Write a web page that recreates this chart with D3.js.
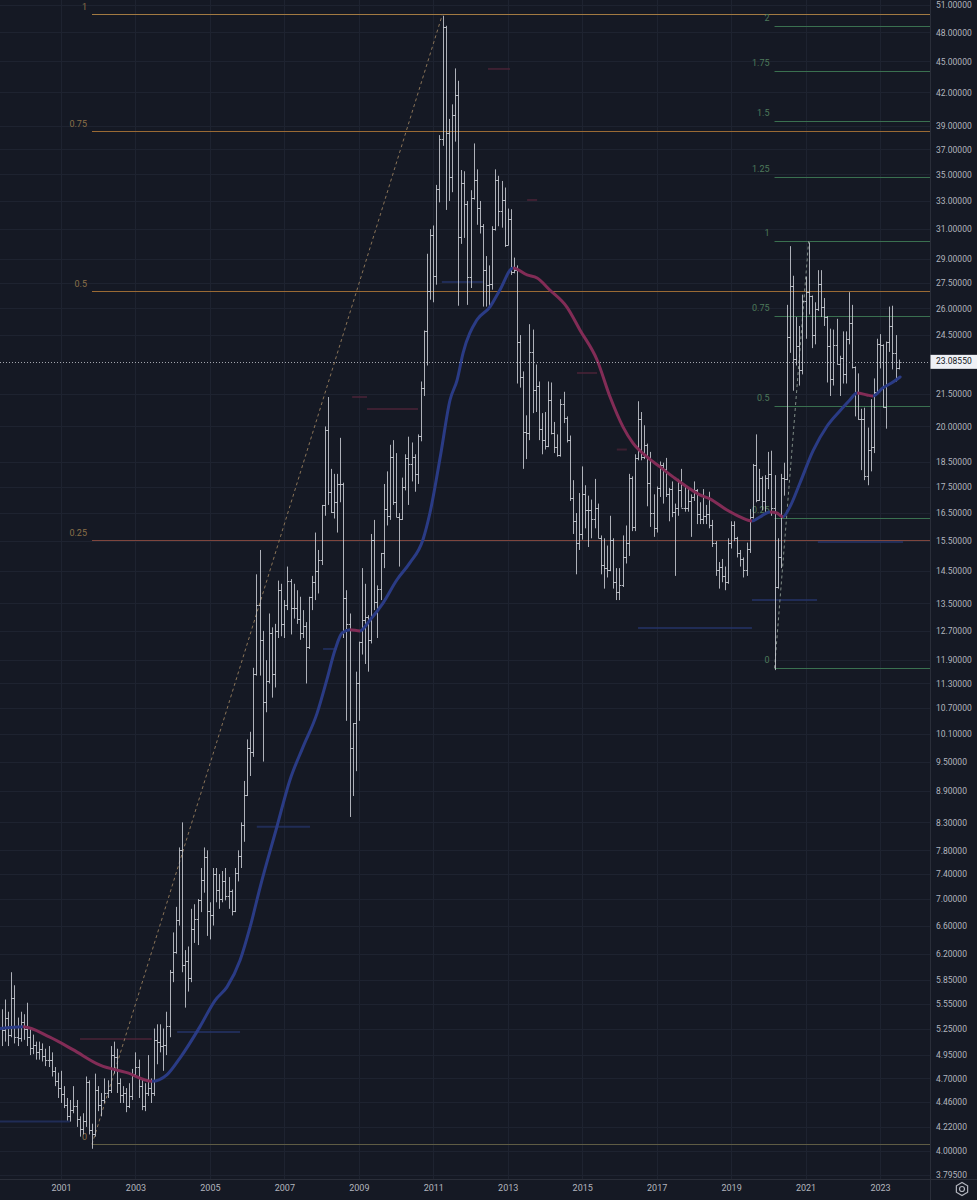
<!DOCTYPE html>
<html><head><meta charset="utf-8">
<script src="https://cdn.jsdelivr.net/npm/d3@7"></script>
<style>
html,body{margin:0;padding:0;background:#151924;}
svg{display:block;}
</style></head><body>
<svg id="chart" width="977" height="1200"></svg>
<script>
// ---------- DATA (monthly OHLC, [open, high, low, close]) ----------
const bars1999 = [null,null,null,null,
 [5.36,5.48,5.15,5.26],[5.26,5.48,5.05,5.23],[5.23,5.60,5.10,5.38],[5.38,5.45,5.05,5.18],
 [5.18,5.95,5.15,5.62],[5.62,5.78,5.08,5.15],[5.15,5.38,5.05,5.14],[5.14,5.45,5.10,5.33]];
const bars2000 = [[5.33,5.42,5.12,5.24],[5.24,5.56,5.05,5.15],[5.15,5.25,4.95,5.03],[5.03,5.18,4.96,5.06],
 [5.06,5.10,4.90,4.98],[4.98,5.10,4.90,5.02],[5.02,5.08,4.88,4.94],[4.94,5.02,4.83,4.90],
 [4.90,5.05,4.82,4.90],[4.90,4.98,4.72,4.78],[4.78,4.82,4.62,4.67],[4.67,4.76,4.50,4.60]];
const bars2001 = [[4.60,4.78,4.45,4.54],[4.54,4.62,4.40,4.43],[4.43,4.50,4.28,4.32],[4.32,4.48,4.27,4.38],
 [4.38,4.62,4.35,4.42],[4.42,4.48,4.22,4.29],[4.29,4.32,4.13,4.20],[4.20,4.35,4.15,4.28],
 [4.28,4.72,4.22,4.66],[4.66,4.68,4.15,4.19],[4.19,4.25,4.02,4.15],[4.15,4.75,4.13,4.58]];
const bars2002 = [[4.58,4.62,4.37,4.43],[4.43,4.55,4.32,4.48],[4.48,4.70,4.45,4.55],[4.55,4.68,4.50,4.58],
 [4.58,5.05,4.55,4.95],[4.95,5.10,4.75,4.93],[4.93,5.02,4.55,4.65],[4.65,4.70,4.45,4.53],
 [4.53,4.62,4.45,4.55],[4.55,4.60,4.36,4.42],[4.42,4.65,4.40,4.52],[4.52,4.80,4.48,4.75]];
const bars2003 = [[4.75,4.98,4.73,4.82],[4.82,4.90,4.50,4.62],[4.62,4.70,4.38,4.42],[4.42,4.65,4.37,4.55],
 [4.55,4.95,4.52,4.60],[4.60,4.70,4.45,4.55],[4.55,5.25,4.52,5.12],[5.12,5.30,4.85,5.10],
 [5.10,5.30,4.98,5.05],[5.05,5.25,4.78,5.06],[5.06,5.45,4.95,5.28],[5.28,5.98,5.15,5.95]];
const bars2004 = [[5.95,6.50,5.82,6.22],[6.22,6.88,6.20,6.68],[6.68,7.85,6.60,7.80],[7.80,8.30,5.95,6.05],
 [6.05,6.25,5.50,6.10],[6.10,6.30,5.70,5.88],[5.88,6.85,5.82,6.55],[6.55,6.92,6.35,6.70],
 [6.70,7.00,6.32,6.98],[6.98,7.50,6.80,7.30],[7.30,7.85,7.10,7.68],[7.68,7.80,6.45,6.82]];
const bars2005 = [[6.82,6.95,6.40,6.75],[6.75,7.50,6.60,7.40],[7.40,7.50,6.95,7.15],[7.15,7.40,6.85,7.00],
 [7.00,7.45,6.95,7.28],[7.28,7.50,6.98,7.05],[7.05,7.35,6.85,7.12],[7.12,7.15,6.75,6.82],
 [6.82,7.50,6.80,7.42],[7.42,7.80,7.28,7.70],[7.70,8.30,7.50,8.25],[8.25,9.10,7.95,8.83]];
const bars2006 = [[8.83,9.98,8.80,9.80],[9.80,10.15,9.20,9.70],[9.70,11.70,9.60,11.55],[11.55,14.40,11.50,13.45],
 [13.45,15.20,11.50,12.45],[12.45,12.70,9.50,10.85],[10.85,11.90,10.60,11.35],[11.35,13.20,11.30,12.65],
 [12.65,12.80,10.95,11.55],[11.55,12.90,11.20,12.70],[12.70,14.20,12.50,13.90],[13.90,14.10,12.55,12.90]];
const bars2007 = [[12.90,13.60,12.50,13.45],[13.45,14.65,13.30,14.20],[14.20,14.25,12.60,13.35],[13.35,14.10,13.05,13.35],
 [13.35,13.90,12.90,13.05],[13.05,13.70,12.45,12.65],[12.65,13.30,12.50,12.85],[12.85,12.95,11.30,12.25],
 [12.25,13.70,12.20,13.70],[13.70,14.35,13.30,14.15],[14.15,15.80,13.60,14.50],[14.50,15.20,13.80,14.85]];
const bars2008 = [[14.85,16.80,14.70,16.80],[16.80,20.00,16.40,19.85],[19.85,21.35,16.80,17.30],[17.30,18.20,16.50,16.55],
 [16.55,18.00,16.30,16.90],[16.90,18.00,15.80,17.60],[17.60,19.50,16.90,17.60],[17.60,17.65,12.50,13.65],
 [13.65,13.90,10.40,12.90],[12.90,13.20,8.40,9.80],[9.80,10.35,8.80,10.35],[10.35,11.60,9.30,11.30]];
const bars2009 = [[11.30,12.40,10.40,12.40],[12.40,14.60,12.05,13.00],[13.00,14.10,11.80,13.10],[13.10,13.15,11.60,12.45],
 [12.45,15.75,12.35,15.55],[15.55,16.25,13.30,13.55],[13.55,14.05,12.50,13.95],[13.95,15.10,13.60,15.10],
 [15.10,17.60,14.60,16.65],[16.65,18.10,16.05,16.40],[16.40,19.20,16.25,18.70],[18.70,19.40,16.80,16.90]];
const bars2010 = [[16.90,18.85,16.35,16.35],[16.35,16.50,14.65,16.30],[16.30,17.85,16.25,17.50],[17.50,18.80,17.35,18.65],
 [18.65,19.55,16.80,18.40],[18.40,19.30,17.70,18.70],[18.70,18.80,17.30,18.00],[18.00,19.65,17.60,19.60],
 [19.60,22.10,19.35,21.80],[21.80,24.75,21.40,24.70],[24.70,29.35,22.90,27.00],[27.00,31.00,26.50,30.60]];
const bars2011 = [[30.60,31.25,26.35,27.95],[27.95,34.20,27.40,33.90],[33.90,38.20,32.90,37.85],[37.85,49.80,37.30,48.60],
 [48.60,48.70,32.35,38.40],[38.40,39.60,33.00,34.80],[34.80,40.90,33.65,39.95],[39.95,44.30,37.65,41.75],
 [41.75,43.10,26.15,30.45],[30.45,35.35,30.00,34.35],[34.35,35.25,30.40,32.80],[32.80,33.00,26.20,27.90]];
const bars2012 = [[27.90,33.80,27.20,33.20],[33.20,37.50,33.10,34.55],[34.55,35.40,31.30,32.50],[32.50,33.00,30.70,31.25],
 [31.25,31.35,26.10,28.30],[28.30,29.20,26.10,27.40],[27.40,28.60,26.10,27.45],[27.45,31.20,27.10,31.00],
 [31.00,35.40,30.90,34.55],[34.55,34.90,31.20,32.30],[32.30,34.50,31.10,33.10],[33.10,34.00,29.80,29.95]];
const bars2013 = [[29.95,32.45,29.90,31.70],[31.70,32.40,28.00,28.20],[28.20,29.10,28.10,28.30],[28.30,28.60,22.00,24.10],
 [24.10,24.50,21.80,22.30],[22.30,22.60,18.20,19.75],[19.75,20.50,18.60,19.70],[19.70,25.10,19.40,23.60],
 [23.60,24.80,20.60,21.70],[21.70,22.95,20.65,21.90],[21.90,22.10,19.40,19.90],[19.90,20.60,18.80,19.40]];
const bars2014 = [[19.40,20.65,19.00,19.15],[19.15,22.10,19.10,21.20],[21.20,22.05,19.65,19.70],[19.70,20.20,18.85,19.10],
 [19.10,19.65,18.70,18.75],[18.75,21.25,18.70,21.00],[21.00,21.60,20.15,20.40],[20.40,20.45,19.30,19.40],
 [19.40,19.60,16.95,17.05],[17.05,17.75,15.75,16.20],[16.20,16.50,14.40,15.45],[15.45,17.25,15.20,15.75]];
const bars2015 = [[15.75,18.30,15.55,17.20],[17.20,17.55,15.95,16.60],[16.60,17.15,15.30,16.60],[16.60,17.00,15.60,16.30],
 [16.30,17.80,15.95,16.70],[16.70,16.85,15.60,15.60],[15.60,15.70,14.40,14.70],[14.70,15.60,13.95,14.60],
 [14.60,15.35,14.30,14.55],[14.55,16.40,14.50,15.55],[15.55,15.60,13.95,14.15],[14.15,14.60,13.60,13.85]];
const bars2016 = [[13.85,14.60,13.60,14.05],[14.05,15.70,14.00,14.95],[14.95,16.05,14.75,15.45],[15.45,18.00,15.00,17.85],
 [17.85,17.90,15.85,16.00],[16.00,18.80,15.85,18.65],[18.65,21.15,18.55,20.35],[20.35,20.65,18.55,18.70],
 [18.70,20.05,18.60,19.20],[19.20,19.25,16.75,17.65],[17.65,18.90,16.00,16.50],[16.50,17.20,15.65,15.95]];
const bars2017 = [[15.95,17.50,15.80,17.45],[17.45,18.50,17.10,18.35],[18.35,18.45,16.85,18.20],[18.20,18.65,17.10,17.20],
 [17.20,17.45,16.20,17.40],[17.40,17.70,16.35,16.55],[16.55,16.85,14.35,16.70],[16.70,17.80,16.40,17.35],
 [17.35,18.20,16.70,16.70],[16.70,17.50,16.55,16.70],[16.70,17.40,16.55,16.95],[16.95,17.20,15.65,17.10]];
const bars2018 = [[17.10,17.70,16.95,17.35],[17.35,17.40,16.10,16.45],[16.45,16.90,16.10,16.30],[16.30,17.40,16.10,16.40],
 [16.40,16.80,16.10,16.45],[16.45,17.30,15.95,16.05],[16.05,16.25,15.30,15.45],[15.45,15.50,14.35,14.55],
 [14.55,14.80,13.95,14.65],[14.65,14.90,14.15,14.35],[14.35,14.65,13.90,14.15],[14.15,15.60,14.10,15.45]];
const bars2019 = [[15.45,16.20,15.25,16.05],[16.05,16.20,15.50,15.60],[15.60,15.65,14.95,15.10],[15.10,15.20,14.65,14.90],
 [14.90,14.95,14.30,14.55],[14.55,15.45,14.35,15.25],[15.25,16.65,15.10,16.35],[16.35,18.40,16.30,18.35],
 [18.35,19.65,16.90,17.00],[17.00,18.20,16.95,17.85],[17.85,17.90,16.60,16.95],[16.95,17.95,16.55,17.85]];
const bars2020 = [[17.85,18.90,17.40,18.00],[18.00,18.95,16.40,16.70],[16.70,17.95,11.64,14.00],[14.00,15.60,13.95,14.95],
 [14.95,18.00,14.60,17.85],[17.85,18.45,17.15,17.80],[17.80,26.20,17.75,24.40],[24.40,29.85,23.55,27.35],
 [27.35,27.95,21.65,23.25],[23.25,25.50,22.90,23.90],[23.90,25.00,21.90,22.65],[22.65,26.80,22.45,26.40]];
const bars2021 = [[26.40,27.90,24.30,26.95],[26.95,30.10,25.65,26.70],[26.70,26.75,23.80,24.50],[24.50,26.35,24.00,25.95],
 [25.95,28.30,25.85,27.45],[27.45,28.30,25.50,26.10],[26.10,26.60,25.00,25.50],[25.50,25.55,22.05,23.90],
 [23.90,24.85,21.40,22.20],[22.20,24.80,21.90,23.95],[23.95,25.40,22.95,23.00],[23.00,23.40,21.40,23.30]];
const bars2022 = [[23.30,24.70,22.00,22.45],[22.45,24.70,22.00,24.30],[24.30,26.95,24.00,25.15],[25.15,26.20,22.75,22.80],
 [22.80,22.85,20.45,21.60],[21.60,22.50,20.30,20.35],[20.35,20.80,18.15,20.35],[20.35,20.85,17.75,17.90],
 [17.90,19.95,17.55,19.00],[19.00,21.25,18.10,19.10],[19.10,22.25,18.85,21.60],[21.60,24.30,21.55,24.00]];
const bars2023 = [[24.00,24.55,22.75,23.95],[23.95,24.00,20.85,20.90],[20.90,24.15,19.90,24.10],[24.10,26.10,23.60,25.00],
 [25.00,26.15,22.70,23.55],[23.55,24.50,22.10,22.75],[22.75,23.20,22.70,23.0855]];

// Moving average, decimal years / prices
const maTimes = [1999.36,1999.98,2000.70,2001.32,2002.05,2002.77,2003.44,2003.85,2004.20,2004.73,2005.14,2005.46,2005.81,
 2006.08,2006.35,2006.80,2007.15,2007.50,2007.88,2008.14,2008.36,2008.55,2008.76,2009.03,2009.30,2009.65,2010.02,2010.37,
 2010.72,2010.91,2011.20,2011.45,2011.64,2011.80,2012.17,2012.52,2012.79,2013.14,2013.52,2013.79,2014.13,2014.59,2014.94,
 2015.40,2015.75,2016.10,2016.36,2016.74,2017.09,2017.44,2017.81,2018.16,2018.43,2018.89,2019.24,2019.56,2019.78,2020.04,
 2020.23,2020.39,2020.58,2020.85,2021.20,2021.58,2021.92,2022.19,2022.38,2022.65,2022.81,2023.08,2023.35,2023.54];
const maValues = [5.25,5.27,5.15,5.01,4.84,4.76,4.67,4.74,4.92,5.27,5.59,5.76,6.11,
 6.58,7.19,8.22,9.12,9.81,10.58,11.39,12.17,12.64,12.73,12.70,13.01,13.51,14.22,14.77,
 15.54,16.50,18.80,21.21,22.17,23.54,25.33,26.07,27.08,28.43,28.00,27.81,27.08,26.07,24.78,
 23.18,21.35,19.97,19.28,18.69,18.28,17.88,17.49,17.18,17.03,16.61,16.36,16.21,16.36,16.54,
 16.50,16.36,16.73,17.64,18.94,20.02,20.70,21.21,21.54,21.45,21.40,21.79,22.07,22.32];

// Small horizontal markers: [fromYear, toYear, price]
const blueMarks = [[1999.36,2001.24,4.27],[2004.12,2005.81,5.21],[2006.26,2007.69,8.22],[2008.04,2008.41,12.2],
 [2011.23,2012.33,27.56],[2016.50,2019.56,12.78],[2019.56,2021.31,13.60],[2021.33,2023.62,15.47]];
const redMarks = [[2001.51,2003.44,5.13],[2009.22,2010.59,20.79],[2008.82,2009.22,21.35],[2012.47,2013.06,44.25],
 [2014.86,2015.40,22.52],[2013.52,2013.79,33.07],[2015.93,2016.20,19.0]];

// Fibonacci retracement (2001 low -> 2011 high) and extension (2020 low -> 2021 high)
const fibLevels = [0, 0.25, 0.5, 0.75, 1];
const fibColors = ["#5f5c44", "#7e463e", "#9a6a34", "#9a6a34", "#a27a42"];
const fibAnchor = {t0: 2001.833, p0: 4.06, t1: 2011.25, p1: 50.0};
const extLevels = [0, 0.25, 0.5, 0.75, 1, 1.25, 1.5, 1.75, 2];
const extAnchor = {t0: 2020.167, p0: 11.69, t1: 2021.083, p1: 30.19};

const lastPrice = 23.0855;
const priceTicks = [51,48,45,42,39,37,35,33,31,29,27.5,26,24.5,21.5,20,18.5,17.5,16.5,15.5,14.5,13.5,12.7,11.9,11.3,
 10.7,10.1,9.5,8.9,8.3,7.8,7.4,7.0,6.6,6.2,5.85,5.55,5.25,4.95,4.7,4.46,4.22,4.0,3.795];
const yearTicks = [2001,2003,2005,2007,2009,2011,2013,2015,2017,2019,2021,2023];

// ---------- LAYOUT ----------
const W = 977, H = 1200, plotR = 930, plotB = 1179;
const FONT = "Roboto, 'Liberation Sans', sans-serif";
const svg = d3.select("#chart");
svg.append("rect").attr("width", W).attr("height", H).attr("fill", "#151924");

const x = d3.scaleLinear().domain([2001, 2023]).range([61, 880]);
const y = d3.scaleLog().domain([4.0, 51]).range([1151, 5]);

const defs = svg.append("defs");
defs.append("clipPath").attr("id", "plotClip").append("rect")
  .attr("x", 0).attr("y", 0).attr("width", plotR).attr("height", plotB);

// grid
const grid = svg.append("g").attr("clip-path", "url(#plotClip)");
grid.selectAll("line.h").data(priceTicks).join("line")
  .attr("x1", 0).attr("x2", plotR).attr("y1", d => Math.round(y(d)) + 0.5).attr("y2", d => Math.round(y(d)) + 0.5)
  .attr("stroke", "#1e2330").attr("stroke-width", 1);
grid.selectAll("line.v").data(yearTicks).join("line")
  .attr("y1", 0).attr("y2", plotB).attr("x1", d => Math.round(x(d)) + 0.5).attr("x2", d => Math.round(x(d)) + 0.5)
  .attr("stroke", "#1e2330").attr("stroke-width", 1);

const plot = svg.append("g").attr("clip-path", "url(#plotClip)");

// markers
plot.selectAll("line.bm").data(blueMarks).join("line")
  .attr("x1", d => x(d[0])).attr("x2", d => x(d[1])).attr("y1", d => y(d[2])).attr("y2", d => y(d[2]))
  .attr("stroke", "#25356c").attr("stroke-width", 2).attr("opacity", 0.7);
plot.selectAll("line.rm").data(redMarks).join("line")
  .attr("x1", d => x(d[0])).attr("x2", d => x(d[1])).attr("y1", d => y(d[2])).attr("y2", d => y(d[2]))
  .attr("stroke", "#4f2438").attr("stroke-width", 2).attr("opacity", 0.7);

// fib retracement
const fibRange = fibAnchor.p1 - fibAnchor.p0;
const fibG = plot.append("g");
fibLevels.forEach((lv, i) => {
  const p = fibAnchor.p0 + lv * fibRange;
  const yy = Math.round(y(p)) + 0.5;
  fibG.append("line").attr("x1", x(fibAnchor.t0)).attr("x2", plotR).attr("y1", yy).attr("y2", yy)
    .attr("stroke", fibColors[i]).attr("stroke-width", 1);
  fibG.append("text").attr("x", x(fibAnchor.t0) - 5).attr("y", yy - 7)
    .attr("text-anchor", "end").attr("dominant-baseline", "middle")
    .attr("font-family", FONT).attr("font-size", 9).attr("fill", "#8a7048").text(lv);
});
fibG.append("line").attr("x1", x(fibAnchor.t0)).attr("y1", y(fibAnchor.p0))
  .attr("x2", x(fibAnchor.t1)).attr("y2", y(fibAnchor.p1))
  .attr("stroke", "#8a7458").attr("stroke-width", 1).attr("stroke-dasharray", "3,3");

// fib extension
const extRange = extAnchor.p1 - extAnchor.p0;
const extG = plot.append("g");
extLevels.forEach(lv => {
  const p = extAnchor.p0 + lv * extRange;
  const yy = Math.round(y(p)) + 0.5;
  extG.append("line").attr("x1", x(extAnchor.t0)).attr("x2", plotR).attr("y1", yy).attr("y2", yy)
    .attr("stroke", "#3a7050").attr("stroke-width", 1);
  extG.append("text").attr("x", x(extAnchor.t0) - 5).attr("y", yy - 8)
    .attr("text-anchor", "end").attr("dominant-baseline", "middle")
    .attr("font-family", FONT).attr("font-size", 9).attr("fill", "#4d7a5b").text(lv);
});
extG.append("line").attr("x1", x(extAnchor.t0)).attr("y1", y(extAnchor.p0))
  .attr("x2", x(extAnchor.t1)).attr("y2", y(extAnchor.p1))
  .attr("stroke", "#7f8c86").attr("stroke-width", 1).attr("stroke-dasharray", "3,3");

// OHLC bars
const yearArrays = [[1999,bars1999],[2000,bars2000],[2001,bars2001],[2002,bars2002],[2003,bars2003],[2004,bars2004],
 [2005,bars2005],[2006,bars2006],[2007,bars2007],[2008,bars2008],[2009,bars2009],[2010,bars2010],[2011,bars2011],
 [2012,bars2012],[2013,bars2013],[2014,bars2014],[2015,bars2015],[2016,bars2016],[2017,bars2017],[2018,bars2018],
 [2019,bars2019],[2020,bars2020],[2021,bars2021],[2022,bars2022],[2023,bars2023]];
const bars = [];
yearArrays.forEach(([yr, arr]) => arr.forEach((b, i) => {
  if (b) bars.push({t: yr + i / 12, o: b[0], h: b[1], l: b[2], c: b[3]});
}));
plot.append("g").selectAll("path").data(bars).join("path")
  .attr("d", d => {
    const xc = Math.round(x(d.t)) + 0.5;
    const hi = Math.max(d.h, d.o, d.c), lo = Math.min(d.l, d.o, d.c);
    const yo = Math.round(y(d.o)) + 0.5, yc = Math.round(y(d.c)) + 0.5;
    return `M${xc},${y(hi)}V${y(lo)}M${xc - 1.5},${yo}H${xc}M${xc},${yc}H${xc + 2}`;
  })
  .attr("fill", "none").attr("stroke", "#c9ccd3").attr("stroke-width", 1).attr("opacity", 0.85);

// MA line with direction colouring
const maPts = maTimes.map((t, i) => [t, maValues[i]]);
const grad = defs.append("linearGradient").attr("id", "maGrad")
  .attr("gradientUnits", "userSpaceOnUse").attr("x1", 0).attr("x2", plotR).attr("y1", 0).attr("y2", 0);
const BLUE = "#2a3b85", PINK = "#822c56";
for (let i = 0; i < maPts.length - 1; i++) {
  const col = maPts[i + 1][1] >= maPts[i][1] ? BLUE : PINK;
  const o1 = Math.max(0, Math.min(1, x(maPts[i][0]) / plotR));
  const o2 = Math.max(0, Math.min(1, x(maPts[i + 1][0]) / plotR));
  grad.append("stop").attr("offset", o1).attr("stop-color", col);
  grad.append("stop").attr("offset", o2).attr("stop-color", col);
}
const maLine = d3.line().x(d => x(d[0])).y(d => y(d[1])).curve(d3.curveMonotoneX);
plot.append("path").attr("d", maLine(maPts)).attr("fill", "none")
  .attr("stroke", "url(#maGrad)").attr("stroke-width", 3).attr("stroke-linecap", "round");

// current price line
const yLast = Math.round(y(lastPrice)) + 0.5;
plot.append("line").attr("x1", 0).attr("x2", plotR).attr("y1", yLast).attr("y2", yLast)
  .attr("stroke", "#a3a6ae").attr("stroke-width", 1).attr("stroke-dasharray", "1,2");

// axis separators
svg.append("line").attr("x1", plotR + 0.5).attr("x2", plotR + 0.5).attr("y1", 0).attr("y2", H)
  .attr("stroke", "#2a2e39");
svg.append("line").attr("x1", 0).attr("x2", W).attr("y1", plotB + 0.5).attr("y2", plotB + 0.5)
  .attr("stroke", "#2a2e39");

// right axis
const gy = svg.append("g").attr("transform", `translate(${plotR},0)`)
  .call(d3.axisRight(y).tickValues(priceTicks).tickFormat(d => d.toFixed(5)).tickSize(0).tickPadding(6));
gy.select(".domain").remove();
gy.attr("font-family", FONT).attr("font-size", 8.5);
gy.selectAll("text").attr("fill", "#b2b5be");

// bottom axis
const gx = svg.append("g").attr("transform", `translate(0,${plotB})`)
  .call(d3.axisBottom(x).tickValues(yearTicks).tickFormat(d3.format("d")).tickSize(0).tickPadding(6));
gx.select(".domain").remove();
gx.attr("font-family", FONT).attr("font-size", 9);
gx.selectAll("text").attr("fill", "#b2b5be");

// last price label
svg.append("rect").attr("x", plotR + 0.5).attr("y", y(lastPrice) - 7).attr("width", W - plotR).attr("height", 14)
  .attr("fill", "#eef0f5");
svg.append("text").attr("x", plotR + 6).attr("y", y(lastPrice)).attr("dominant-baseline", "middle")
  .attr("font-family", FONT).attr("font-size", 8.5).attr("fill", "#131722").text(lastPrice.toFixed(5));

// settings icon
const gear = svg.append("g").attr("transform", `translate(962,1189)`);
const hex = d3.range(6).map(k => [6.5 * Math.cos(Math.PI / 3 * k + Math.PI / 6), 6.5 * Math.sin(Math.PI / 3 * k + Math.PI / 6)]);
gear.append("path").attr("d", "M" + hex.map(p => p.join(",")).join("L") + "Z")
  .attr("fill", "none").attr("stroke", "#b2b5be").attr("stroke-width", 1.2);
gear.append("circle").attr("r", 2.5).attr("fill", "none").attr("stroke", "#b2b5be").attr("stroke-width", 1.2);
</script>
</body></html>
